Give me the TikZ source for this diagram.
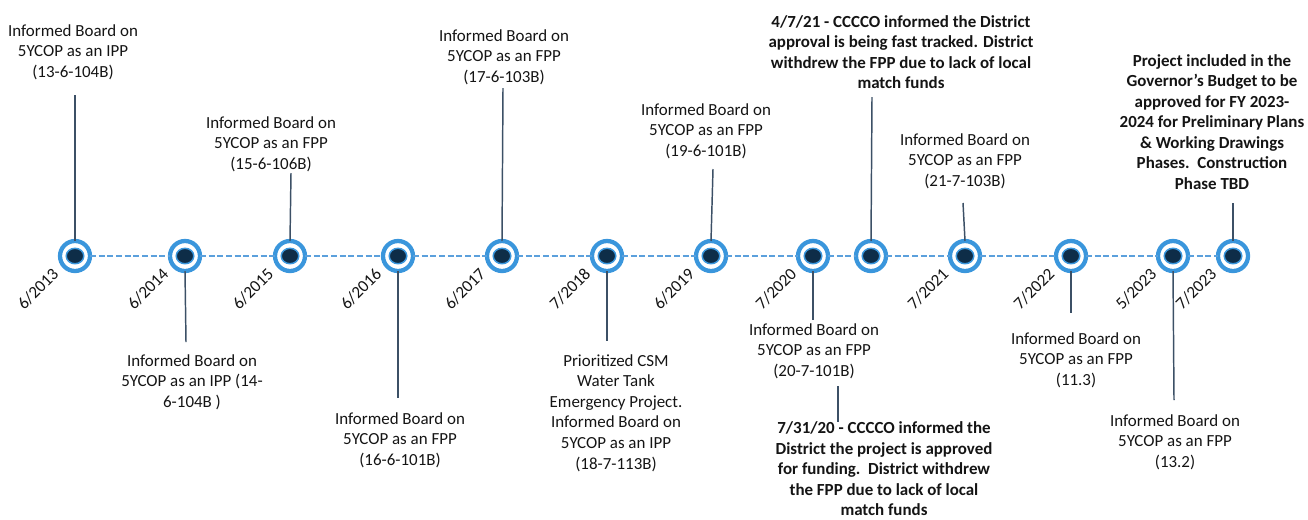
\documentclass[tikz,border=0pt]{standalone}
\usepackage{fontspec}
\setmainfont{Carlito}
\definecolor{ringblue}{RGB}{58,150,220}
\definecolor{dashblue}{RGB}{91,160,220}
\definecolor{dotnavy}{RGB}{14,45,72}
\definecolor{slate}{RGB}{60,80,102}
\definecolor{ink}{RGB}{20,20,20}
\newcommand\tlpt[3]{%
  \node[ring] (#1) at (#2,256) {};
  \filldraw[innerdot] (#1.center) ellipse [x radius=6.6pt, y radius=5.8pt];
  \node[datelbl] (#1d) at (#2-37,289) {#3};
}
\begin{document}
\begin{tikzpicture}[x=0.75pt,y=-0.75pt,
  ring/.style={circle, draw=ringblue, line width=3.2pt, fill=white, minimum size=22.5pt, inner sep=0pt, outer sep=0pt},
  innerdot/.style={fill=dotnavy, draw=ringblue, line width=1.1pt},
  datelbl/.style={rotate=45, inner sep=0pt, text=ink, font=\fontsize{12.8}{15.4}\selectfont},
  txt/.style={align=center, inner sep=0pt, text=ink, font=\fontsize{12.7}{15.4}\selectfont},
  btxt/.style={align=center, inner sep=0pt, text=ink, font=\fontsize{12.7}{15.4}\selectfont\bfseries},
  dashline/.style={draw=dashblue, line width=1.1pt, dash pattern=on 4.5pt off 2pt},
  vline/.style={draw=slate, line width=1.1pt}]
\useasboundingbox (0,0) rectangle (1308,519);
% timeline points
\tlpt{c1}{75}{6/2013}
\tlpt{c2}{185}{6/2014}
\tlpt{c3}{290}{6/2015}
\tlpt{c4}{398}{6/2016}
\tlpt{c5}{502}{6/2017}
\tlpt{c6}{607}{7/2018}
\tlpt{c7}{711}{6/2019}
\tlpt{c8}{813}{7/2020}
\node[ring] (c9) at (871,256) {};
\filldraw[innerdot] (c9.center) ellipse [x radius=6.6pt, y radius=5.8pt];
\tlpt{c10}{965}{7/2021}
\tlpt{c11}{1071}{7/2022}
\tlpt{c12}{1173}{5/2023}
\tlpt{c13}{1233}{7/2023}
% dashed timeline
\draw[dashline] (c1.east) -- (c2.west);
\draw[dashline] (c2.east) -- (c3.west);
\draw[dashline] (c3.east) -- (c4.west);
\draw[dashline] (c4.east) -- (c5.west);
\draw[dashline] (c5.east) -- (c6.west);
\draw[dashline] (c6.east) -- (c7.west);
\draw[dashline] (c7.east) -- (c8.west);
\draw[dashline] (c8.east) -- (c9.west);
\draw[dashline] (c9.east) -- (c10.west);
\draw[dashline] (c10.east) -- (c11.west);
\draw[dashline] (c11.east) -- (c12.west);
\draw[dashline] (c12.east) -- (c13.west);
% texts
\node[txt] (t1) at (73,52) {Informed Board on\\5YCOP as an IPP\\(13-6-104B)};
\node[txt] (t2) at (192,382) {Informed Board on\\5YCOP as an IPP (14-\\6-104B )};
\node[txt] (t3) at (271,144) {Informed Board on\\5YCOP as an FPP\\(15-6-106B)};
\node[txt] (t4) at (400,440) {Informed Board on\\5YCOP as an FPP\\(16-6-101B)};
\node[txt] (t5) at (504,57) {Informed Board on\\5YCOP as an FPP\\(17-6-103B)};
\node[txt] (t6) at (616,413) {Prioritized CSM\\Water Tank\\Emergency Project.\\Informed Board on\\5YCOP as an IPP\\(18-7-113B)};
\node[txt] (t7) at (706,131) {Informed Board on\\5YCOP as an FPP\\(19-6-101B)};
\node[txt] (t8) at (814,351) {Informed Board on\\5YCOP as an FPP\\(20-7-101B)};
\node[btxt] (t9) at (901,52) {4/7/21 - CCCCO informed the District\\approval is being fast tracked. District\\withdrew the FPP due to lack of local\\match funds};
\node[btxt] (t9b) at (884,469) {7/31/20 - CCCCO informed the\\District the project is approved\\for funding.\ \ District withdrew\\the FPP due to lack of local\\match funds};
\node[txt] (t10) at (965,161) {Informed Board on\\5YCOP as an FPP\\(21-7-103B)};
\node[txt] (t11) at (1076,360) {Informed Board on\\5YCOP as an FPP\\(11.3)};
\node[txt] (t12) at (1175,442) {Informed Board on\\5YCOP as an FPP\\(13.2)};
\node[btxt] (t13) at (1212,122) {Project included in the\\Governor’s Budget to be\\approved for FY 2023-\\2024 for Preliminary Plans\\\& Working Drawings\\Phases.\ \ Construction\\Phase TBD};
% connector ends
\coordinate (e1) at (75,95);
\coordinate (e2) at (186,342);
\coordinate (e3) at (291,173);
\coordinate (e4) at (398,398);
\coordinate (e5) at (503,88);
\coordinate (e6) at (607,341);
\coordinate (e7) at (713,169);
\coordinate (e8) at (813,320);
\coordinate (e9) at (872,97);
\coordinate (e10) at (963,203);
\coordinate (e11) at (1071,313);
\coordinate (e12) at (1174,400);
\coordinate (e13) at (1233,203);
\coordinate (s1) at (838,386);
% connectors
\draw[vline] (c1.north) -- (e1);
\draw[vline] (c2.south) -- (e2);
\draw[vline] (c3.north) -- (e3);
\draw[vline] (c4.south) -- (e4);
\draw[vline] (c5.north) -- (e5);
\draw[vline] (c6.south) -- (e6);
\draw[vline] (c7.north) -- (e7);
\draw[vline] (c8.south) -- (e8);
\draw[vline] (c9.north) -- (e9);
\draw[vline] (c10.north) -- (e10);
\draw[vline] (c11.south) -- (e11);
\draw[vline] (c12.south) -- (e12);
\draw[vline] (c13.north) -- (e13);
\draw[vline] (s1) -- (t9b.north -| s1);
\end{tikzpicture}
\end{document}
